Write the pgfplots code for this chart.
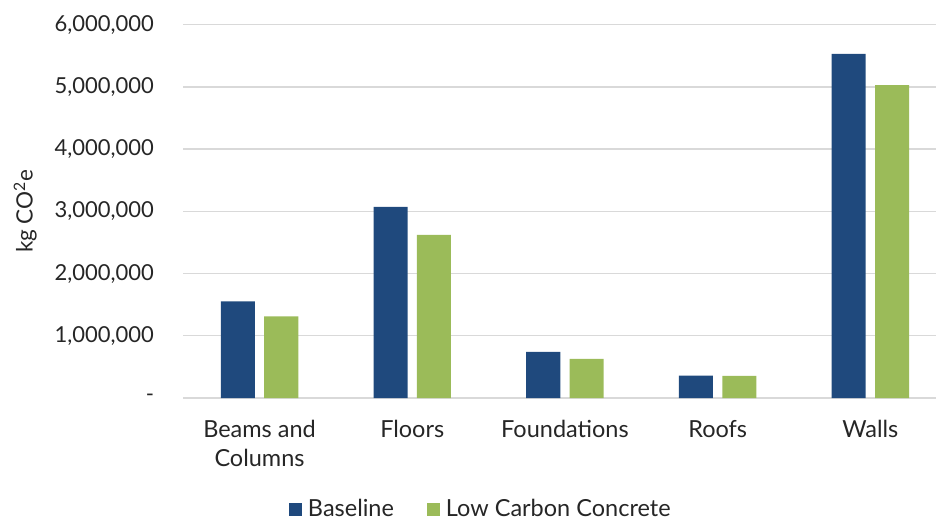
\documentclass[border=0pt]{standalone}
\usepackage{pgfplots}
\pgfplotsset{compat=1.18}
\usepackage{fontspec}
\setmainfont{Lato}
\definecolor{basec}{HTML}{1F497D}
\definecolor{lccc}{HTML}{9BBB59}
\definecolor{gridc}{HTML}{D9D9D9}
\definecolor{txt}{HTML}{262626}
\begin{document}
\fontsize{22pt}{29pt}\selectfont
\begin{tikzpicture}[x=1pt,y=1pt]
\useasboundingbox (0,0) rectangle (936,522);
\begin{axis}[
  at={(183.2pt,124pt)}, anchor=south west,
  scale only axis, width=752.8pt, height=373.3pt,
  xmin=-0.5, xmax=4.43, ymin=0, ymax=6000000,
  scaled y ticks=false,
  xtick={0,1,2,3,4},
  xticklabels={{Beams and\\Columns},Floors,Foundations,Roofs,Walls},
  ytick={0,1000000,2000000,3000000,4000000,5000000,6000000},
  yticklabels={{-\hspace{13pt}},{1,000,000},{2,000,000},{3,000,000},{4,000,000},{5,000,000},{6,000,000}},
  axis line style={draw=none},
  major tick length=0pt,
  ymajorgrids, grid style={gridc, line width=1.3pt},
  tick label style={font=\fontsize{22pt}{29pt}\selectfont, text=txt},
  yticklabel style={inner sep=0pt, xshift=-29pt},
  xticklabel style={align=center, inner sep=0pt, yshift=-22pt, font=\fontsize{23.5pt}{29pt}\selectfont},
  ylabel={kg CO\textsuperscript{2}e},
  ylabel style={at={(axis description cs:-0.2098,0.5)}, anchor=center, font=\fontsize{22.5pt}{29pt}\selectfont, text=txt},
  legend columns=2,
  legend style={at={(axis description cs:0.394,-0.30)}, anchor=center, draw=none,
    font=\fontsize{23.5pt}{29pt}\selectfont, text=txt,
    /tikz/every even column/.append style={column sep=33pt},
    /tikz/every odd column/.append style={column sep=6pt},
    nodes={inner sep=0pt}},
  legend image code/.code={\fill[#1] (0pt,-6.5pt) rectangle (13pt,6.5pt);},
]
\addplot[ybar, bar width=0.223, bar shift=-0.142, fill=basec, draw=none]
  coordinates {(0,1555000) (1,3070000) (2,740000) (3,360000) (4,5530000)};
\addplot[ybar, bar width=0.223, bar shift=0.142, fill=lccc, draw=none]
  coordinates {(0,1310000) (1,2620000) (2,630000) (3,355000) (4,5030000)};
\legend{Baseline,Low Carbon Concrete}
\end{axis}
\end{tikzpicture}
\end{document}
